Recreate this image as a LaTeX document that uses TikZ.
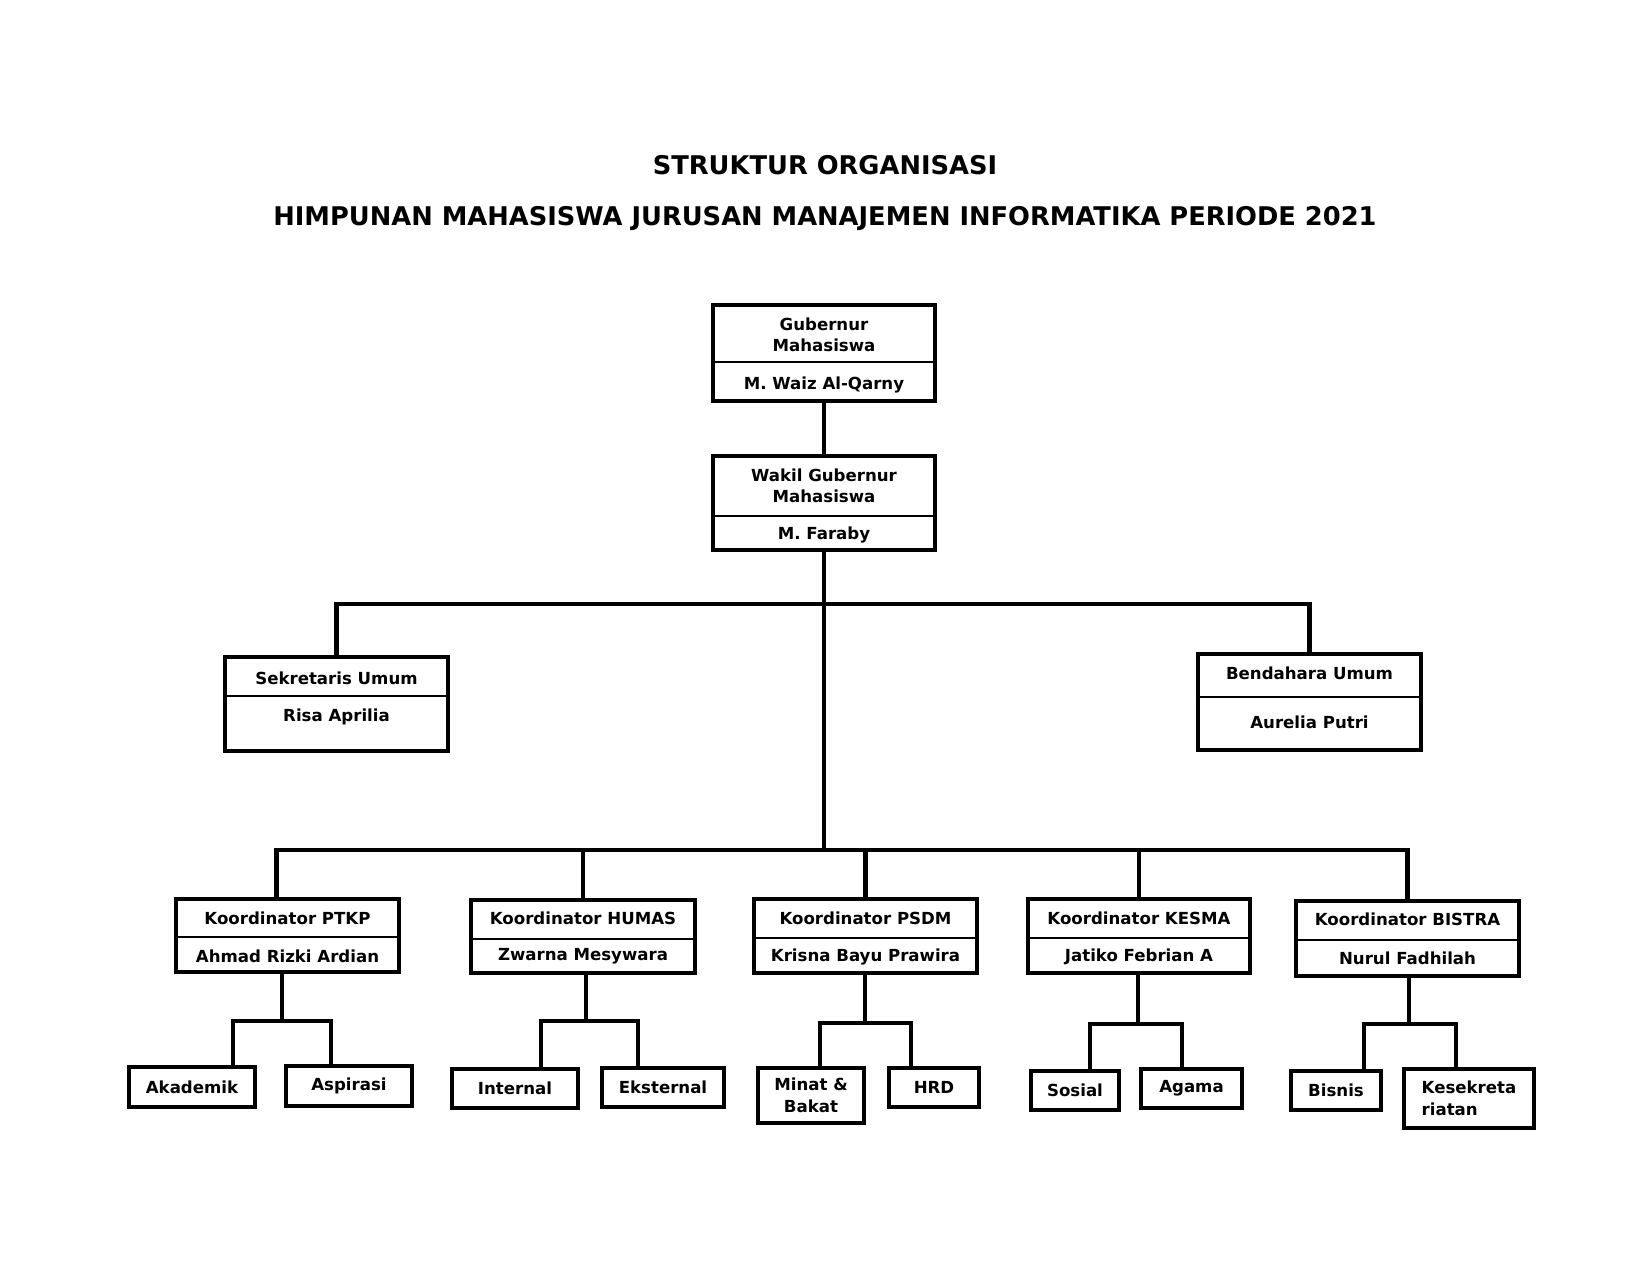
\documentclass[tikz,border=0pt]{standalone}
\usepackage{fontspec}
\setmainfont{DejaVu Sans}
\usetikzlibrary{calc}
\def\pxu{0.4818pt}
\tikzset{
    jabatan/.style={draw, line width=2.3pt, inner sep=0pt},
    unitbox/.style={draw, line width=2.3pt, inner sep=0pt, align=center, font=\bfseries\fontsize{8}{10.5}\selectfont},
    teks/.style={inner sep=0pt, align=center, font=\bfseries\fontsize{8}{10}\selectfont},
    judul/.style={inner sep=0pt, font=\bfseries\fontsize{12.4}{14}\selectfont},
    garis/.style={line width=2.3pt},
    sekat/.style={line width=1.4pt}
}

\begin{document}
\begin{tikzpicture}[x=0.4818pt, y=-0.4818pt]
            \useasboundingbox (0,0) rectangle (1650,1275);

            % judul
            \node[judul] (judul1) at (825,165) {STRUKTUR ORGANISASI};
            \node[judul] (judul2) at (825,219) {HIMPUNAN MAHASISWA JURUSAN MANAJEMEN INFORMATIKA PERIODE 2021};

            % pimpinan
            \node[jabatan, minimum width=222*\pxu, minimum height=96*\pxu] (gub) at (824,353) {};
            \node[teks] (gub-t) at (824,334.5) {Gubernur\\Mahasiswa};
            \node[teks] (gub-n) at (824,385) {M. Waiz Al-Qarny};
            \draw[sekat] (gub.west |- 0,362) -- (gub.east |- 0,362);

            \node[jabatan, minimum width=222*\pxu, minimum height=94*\pxu] (wakil) at (824,503) {};
            \node[teks] (wakil-t) at (824,485.5) {Wakil Gubernur\\Mahasiswa};
            \node[teks] (wakil-n) at (824,535) {M. Faraby};
            \draw[sekat] (wakil.west |- 0,516) -- (wakil.east |- 0,516);

            \node[jabatan, minimum width=223*\pxu, minimum height=94*\pxu] (sek) at (336.5,704) {};
            \node[teks] (sek-t) at (336.5,678) {Sekretaris Umum};
            \node[teks] (sek-n) at (336.5,717) {Risa Aprilia};
            \draw[sekat] (sek.west |- 0,696) -- (sek.east |- 0,696);

            \node[jabatan, minimum width=223*\pxu, minimum height=96*\pxu] (ben) at (1309.5,702) {};
            \node[teks] (ben-t) at (1309.5,673) {Bendahara Umum};
            \node[teks] (ben-n) at (1309.5,722) {Aurelia Putri};
            \draw[sekat] (ben.west |- 0,697) -- (ben.east |- 0,697);

            % koordinator
            \node[jabatan, minimum width=223*\pxu, minimum height=73*\pxu] (ptkp) at (287.5,935.5) {};
            \node[teks] (ptkp-t) at (287.5,918) {Koordinator PTKP};
            \node[teks] (ptkp-n) at (287.5,956.5) {Ahmad Rizki Ardian};
            \draw[sekat] (ptkp.west |- 0,937) -- (ptkp.east |- 0,937);

            \node[jabatan, minimum width=224*\pxu, minimum height=73*\pxu] (humas) at (583,936.5) {};
            \node[teks] (humas-t) at (583,918.5) {Koordinator HUMAS};
            \node[teks] (humas-n) at (583,956.5) {Zwarna Mesywara};
            \draw[sekat] (humas.west |- 0,939) -- (humas.east |- 0,939);

            \node[jabatan, minimum width=223*\pxu, minimum height=74*\pxu] (psdm) at (865.5,936) {};
            \node[teks] (psdm-t) at (865.5,918.5) {Koordinator PSDM};
            \node[teks] (psdm-n) at (865.5,956.5) {Krisna Bayu Prawira};
            \draw[sekat] (psdm.west |- 0,938) -- (psdm.east |- 0,938);

            \node[jabatan, minimum width=222*\pxu, minimum height=74*\pxu] (kesma) at (1139,936) {};
            \node[teks] (kesma-t) at (1139,918.5) {Koordinator KESMA};
            \node[teks] (kesma-n) at (1139,956.5) {Jatiko Febrian A};
            \draw[sekat] (kesma.west |- 0,938) -- (kesma.east |- 0,938);

            \node[jabatan, minimum width=223*\pxu, minimum height=75*\pxu] (bistra) at (1407.5,938.5) {};
            \node[teks] (bistra-t) at (1407.5,919.5) {Koordinator BISTRA};
            \node[teks] (bistra-n) at (1407.5,958.5) {Nurul Fadhilah};
            \draw[sekat] (bistra.west |- 0,940) -- (bistra.east |- 0,940);

            % bidang
            \node[unitbox, minimum width=126*\pxu, minimum height=40*\pxu] (aka) at (192,1087) {Akademik};
            \node[unitbox, minimum width=126*\pxu, minimum height=40*\pxu] (asp) at (349,1086) {Aspirasi};
            \node[unitbox, minimum width=126*\pxu, minimum height=39*\pxu] (int) at (515,1088.5) {Internal};
            \node[unitbox, minimum width=122*\pxu, minimum height=39*\pxu] (eks) at (663,1087.5) {Eksternal};
            \node[unitbox, minimum width=106*\pxu, minimum height=55*\pxu] (minat) at (811,1095.5) {Minat \&\\Bakat};
            \node[unitbox, minimum width=90*\pxu, minimum height=39*\pxu] (hrd) at (934,1087.5) {HRD};
            \node[unitbox, minimum width=88*\pxu, minimum height=39*\pxu] (sos) at (1075,1090.5) {Sosial};
            \node[unitbox, minimum width=101*\pxu, minimum height=39*\pxu] (aga) at (1191.5,1088.5) {Agama};
            \node[unitbox, minimum width=90*\pxu, minimum height=39*\pxu] (bis) at (1336,1090.5) {Bisnis};
            \node[unitbox, minimum width=130*\pxu, minimum height=59*\pxu, align=left] (kes) at (1469,1098.5) {Kesekreta\\riatan};

            % titik cabang
            \coordinate (simpul1) at (824,604);
            \coordinate (simpul2) at (824,850);
            \coordinate (ptkp-c) at (282,1021);
            \coordinate (ptkp-l) at (233,1021);
            \coordinate (ptkp-r) at (331,1021);
            \coordinate (humas-c) at (586,1021);
            \coordinate (humas-l) at (541,1021);
            \coordinate (humas-r) at (638,1021);
            \coordinate (psdm-c) at (865,1023);
            \coordinate (psdm-l) at (820,1023);
            \coordinate (psdm-r) at (911,1023);
            \coordinate (kesma-c) at (1138,1024);
            \coordinate (kesma-l) at (1090,1024);
            \coordinate (kesma-r) at (1182,1024);
            \coordinate (bistra-c) at (1409,1024);
            \coordinate (bistra-l) at (1364,1024);
            \coordinate (bistra-r) at (1456,1024);

            % garis
            \draw[garis] (gub.south) -- (wakil.north);
            \draw[garis] (wakil.south) -- (simpul2);
            \draw[garis] (sek.north) |- (simpul1) -| (ben.north);
            \draw[garis] ([xshift=-11*\pxu]ptkp.north) |- (simpul2) -| (bistra.north);
            \draw[garis] (humas.north) -- (humas.north |- simpul2);
            \draw[garis] (psdm.north) -- (psdm.north |- simpul2);
            \draw[garis] (kesma.north) -- (kesma.north |- simpul2);

            \draw[garis] (ptkp.south -| ptkp-c) -- (ptkp-c);
            \draw[garis] (aka.north -| ptkp-l) -- (ptkp-l) -- (ptkp-r) -- (asp.north -| ptkp-r);
            \draw[garis] (humas.south -| humas-c) -- (humas-c);
            \draw[garis] (int.north -| humas-l) -- (humas-l) -- (humas-r) -- (eks.north -| humas-r);
            \draw[garis] (psdm.south -| psdm-c) -- (psdm-c);
            \draw[garis] (minat.north -| psdm-l) -- (psdm-l) -- (psdm-r) -- (hrd.north -| psdm-r);
            \draw[garis] (kesma.south -| kesma-c) -- (kesma-c);
            \draw[garis] (sos.north -| kesma-l) -- (kesma-l) -- (kesma-r) -- (aga.north -| kesma-r);
            \draw[garis] (bistra.south -| bistra-c) -- (bistra-c);
            \draw[garis] (bis.north -| bistra-l) -- (bistra-l) -- (bistra-r) -- (kes.north -| bistra-r);
        \end{tikzpicture}
\end{document}
